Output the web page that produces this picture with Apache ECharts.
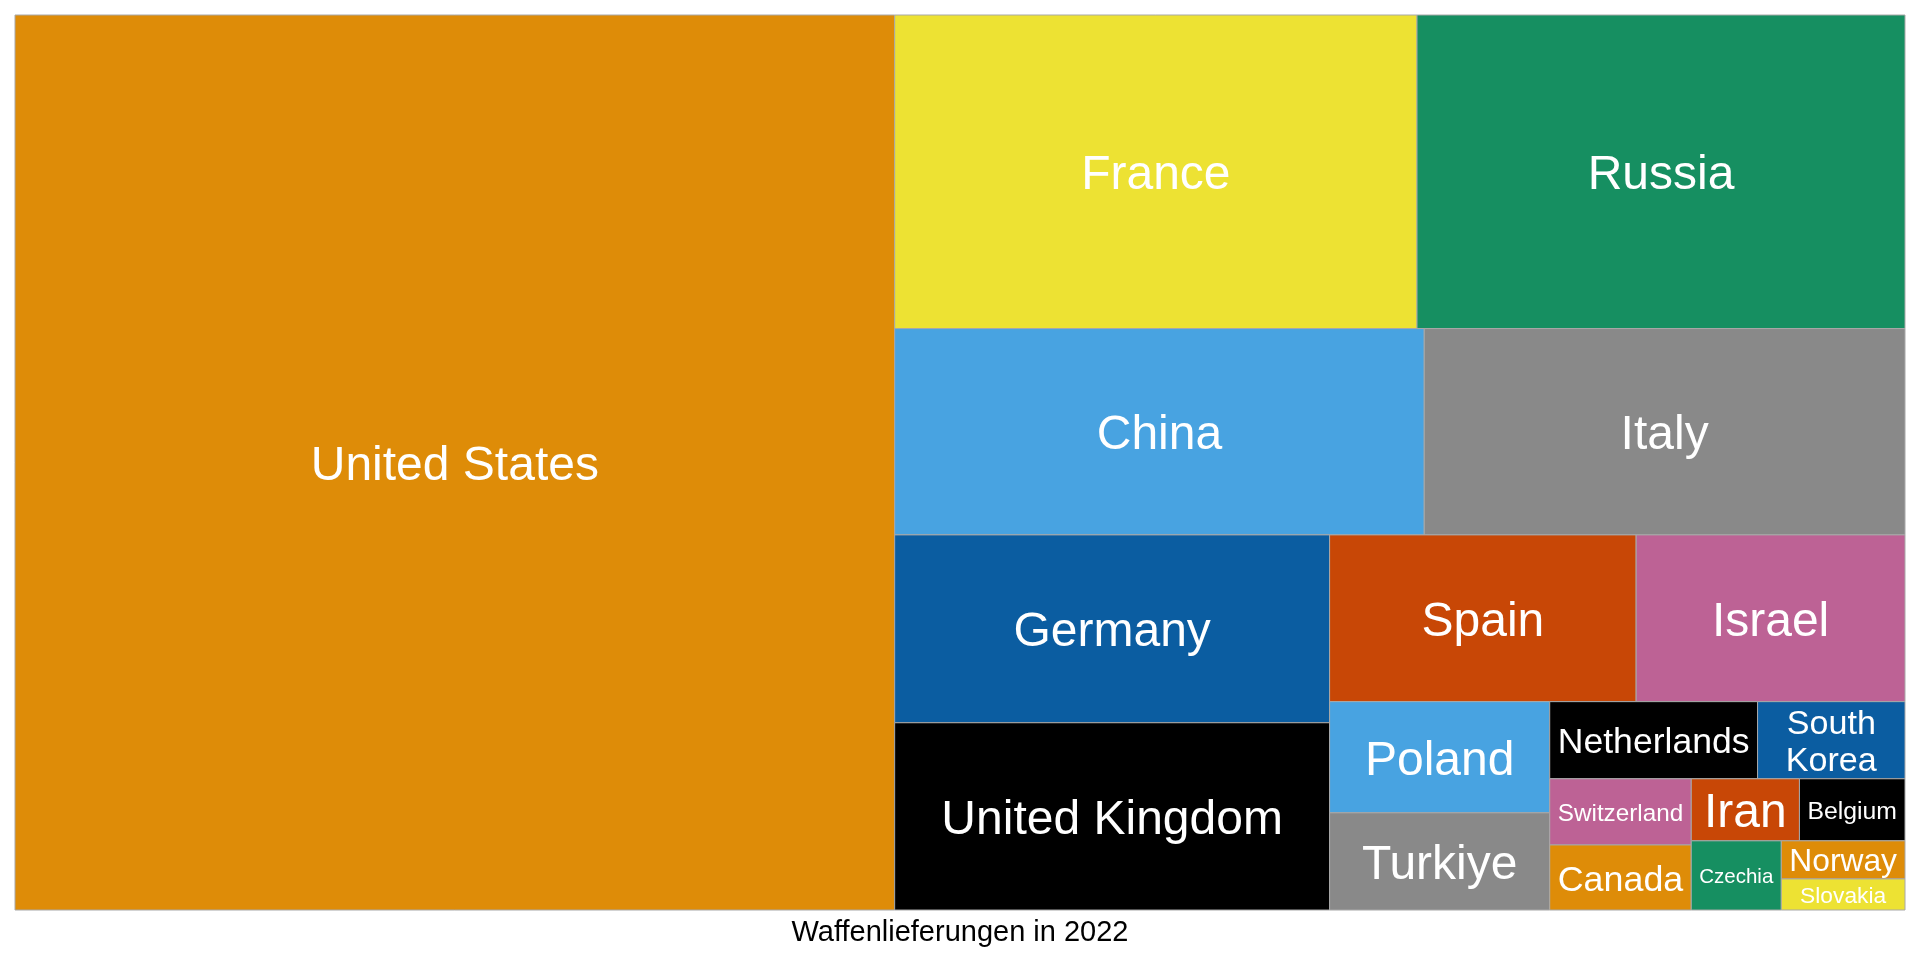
<!DOCTYPE html>
<html>
<head>
<meta charset="utf-8">
<script src="https://cdn.jsdelivr.net/npm/echarts@6/dist/echarts.min.js"></script>
<style>
html,body{margin:0;padding:0;background:#ffffff;}
#chart{width:1920px;height:960px;}
</style>
</head>
<body>
<div id="chart"></div>
<script>
// ---- data (arms deliveries 2022) ----
const countries = ['United States','France','Russia','China','Italy','Germany','United Kingdom','Spain','Israel','Poland','Turkiye','Netherlands','South Korea','Switzerland','Canada','Iran','Belgium','Czechia','Norway','Slovakia'];
const deliveries = [14540,3025,2826,2018,1832,1509,1504,944,828,452,395,296,210,173,170,124,121,115,87,71];
const palette = ['#000000','#DE8C08','#48A3E1','#168F61','#EDE233','#0B5DA1','#C84706','#BD6295','#898989'];
const chartTitle = 'Waffenlieferungen in 2022';

// ---- squarified layout in unit data space (like treemapify) ----
function squarify(values) {
  const order = values.map((v, i) => i).sort((a, b) => values[b] - values[a]);
  const total = values.reduce((s, v) => s + v, 0);
  let rect = {x: 0, y: 0, w: 1, h: 1};
  const out = [];
  const sum = r => r.reduce((s, o) => s + o.a, 0);
  function worst(r, side) {
    if (!r.length) return Infinity;
    const s = sum(r);
    let mx = -Infinity, mn = Infinity;
    r.forEach(o => { mx = Math.max(mx, o.a); mn = Math.min(mn, o.a); });
    return Math.max(side * side * mx / (s * s), (s * s) / (side * side * mn));
  }
  function layoutRow(r) {
    const s = sum(r);
    if (rect.w >= rect.h) {
      const cw = s / rect.h;
      let y = rect.y;
      r.forEach(o => { const hh = o.a / cw; out.push([rect.x, y, rect.x + cw, y + hh, o.i]); y += hh; });
      rect = {x: rect.x + cw, y: rect.y, w: rect.w - cw, h: rect.h};
    } else {
      const rh = s / rect.w;
      let x = rect.x;
      r.forEach(o => { const ww = o.a / rh; out.push([x, rect.y, x + ww, rect.y + rh, o.i]); x += ww; });
      rect = {x: rect.x, y: rect.y + rh, w: rect.w, h: rect.h - rh};
    }
  }
  let row = [];
  let k = 0;
  while (k < order.length) {
    const item = {i: order[k], a: values[order[k]] / total};
    const side = Math.min(rect.w, rect.h);
    if (!row.length || worst(row.concat([item]), side) <= worst(row, side)) {
      row.push(item); k++;
    } else {
      layoutRow(row); row = [];
    }
  }
  if (row.length) layoutRow(row);
  return out;
}

const cells = squarify(deliveries);
const alphabetical = countries.slice().sort();
function colorOf(i) { return palette[alphabetical.indexOf(countries[i]) % palette.length]; }

// ---- label fitting (shrink to fit, reflow onto lines if that allows bigger text) ----
const FONT = '"Liberation Sans", Arial, Helvetica, sans-serif';
const mctx = document.createElement('canvas').getContext('2d');
mctx.font = '100px ' + FONT;
function textW(s) { return mctx.measureText(s).width / 100; }
function fitLabel(name, w, h) {
  const MAX = 48, PX = 8, PY = 7, LH = 1.1, ASC = 0.75;
  const words = name.split(' ');
  const cands = [[name]];
  for (let s = 1; s < words.length; s++) cands.push([words.slice(0, s).join(' '), words.slice(s).join(' ')]);
  let best = null;
  cands.forEach(lines => {
    const lw = Math.max(...lines.map(textW));
    const fs = Math.min(MAX, (w - 2 * PX) / lw, (h - 2 * PY) / ((lines.length - 1) * LH + ASC));
    if (!best || fs > best.fs + 0.01) best = {fs, text: lines.join('\n'), n: lines.length};
  });
  return best;
}

const chart = echarts.init(document.getElementById('chart'), null, {renderer: 'canvas'});
chart.setOption({
  backgroundColor: '#ffffff',
  animation: false,
  title: {
    text: chartTitle,
    left: 'center',
    top: 913,
    textStyle: {fontSize: 29, fontWeight: 'normal', color: '#000000', fontFamily: FONT}
  },
  grid: {left: 15, right: 15, top: 15, bottom: 50},
  xAxis: {type: 'value', min: 0, max: 1, show: false},
  yAxis: {type: 'value', min: 0, max: 1, inverse: true, show: false},
  series: [{
    type: 'custom',
    data: cells,
    encode: {x: [0, 2], y: [1, 3]},
    renderItem: function (params, api) {
      const i = api.value(4);
      const p0 = api.coord([api.value(0), api.value(1)]);
      const p1 = api.coord([api.value(2), api.value(3)]);
      const x = Math.min(p0[0], p1[0]), y = Math.min(p0[1], p1[1]);
      const w = Math.abs(p1[0] - p0[0]), h = Math.abs(p1[1] - p0[1]);
      const lab = fitLabel(countries[i], w, h);
      return {
        type: 'group',
        children: [
          {type: 'rect', shape: {x: x, y: y, width: w, height: h},
           style: {fill: colorOf(i), stroke: '#a8a8a8', lineWidth: 1}},
          {type: 'text', x: x + w / 2, y: y + h / 2 + lab.fs * 0.09,
           style: {text: lab.text, fill: '#ffffff', fontSize: lab.fs, fontFamily: FONT,
                   align: 'center', verticalAlign: 'middle', lineHeight: lab.fs * 1.1}}
        ]
      };
    }
  }]
});
</script>
</body>
</html>
